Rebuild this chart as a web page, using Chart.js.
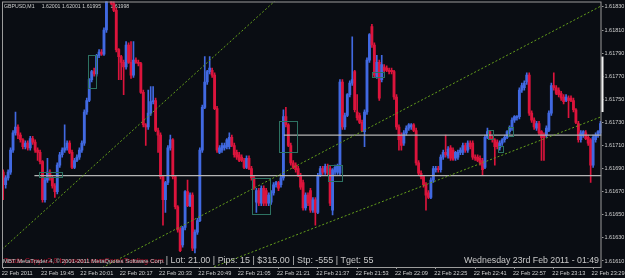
<!DOCTYPE html>
<html>
<head>
<meta charset="utf-8">
<script src="https://cdn.jsdelivr.net/npm/chart.js@4.4.1/dist/chart.umd.min.js"></script>
<style>
html, body { margin: 0; padding: 0; background: #0a0d13; }
</style>
</head>
<body>
<canvas id="myChart" width="625" height="278"></canvas>
<script>
// GBPUSD M1 bars, 19:29 .. 23:32
const opens = [1.61687,1.61676,1.61682,1.61687,1.61706,1.61721,1.61726,1.61719,1.61715,1.61709,
1.61712,1.61708,1.61716,1.61713,1.61706,1.61704,1.61696,1.61663,1.61680,1.61687,
1.61682,1.61675,1.61670,1.61693,1.61702,1.61706,1.61708,1.61712,1.61704,1.61691,
1.61697,1.61700,1.61706,1.61712,1.61739,1.61749,1.61767,1.61774,1.61772,1.61788,
1.61791,1.61789,1.61810,1.61849,1.61858,1.61833,1.61827,1.61793,1.61787,1.61782,
1.61778,1.61797,1.61782,1.61771,1.61784,1.61782,1.61781,1.61756,1.61728,1.61726,
1.61738,1.61748,1.61749,1.61723,1.61719,1.61683,1.61663,1.61678,1.61708,1.61715,
1.61683,1.61657,1.61637,1.61624,1.61639,1.61670,1.61658,1.61667,1.61621,1.61635,
1.61645,1.61706,1.61743,1.61765,1.61774,1.61775,1.61771,1.61742,1.61704,1.61706,
1.61708,1.61709,1.61709,1.61717,1.61710,1.61704,1.61702,1.61700,1.61697,1.61691,
1.61699,1.61690,1.61682,1.61661,1.61671,1.61660,1.61673,1.61671,1.61660,1.61661,
1.61669,1.61676,1.61678,1.61676,1.61682,1.61735,1.61728,1.61710,1.61695,1.61693,
1.61690,1.61684,1.61678,1.61656,1.61667,1.61671,1.61654,1.61663,1.61652,1.61684,
1.61690,1.61687,1.61692,1.61690,1.61654,1.61687,1.61687,1.61686,1.61765,1.61726,
1.61736,1.61754,1.61764,1.61774,1.61739,1.61736,1.61730,1.61722,1.61739,1.61784,
1.61813,1.61797,1.61769,1.61782,1.61767,1.61778,1.61777,1.61775,1.61775,1.61774,
1.61752,1.61726,1.61719,1.61712,1.61721,1.61725,1.61726,1.61728,1.61723,1.61695,
1.61686,1.61683,1.61676,1.61669,1.61665,1.61680,1.61689,1.61690,1.61689,1.61700,
1.61704,1.61701,1.61708,1.61706,1.61699,1.61700,1.61704,1.61704,1.61710,1.61706,
1.61712,1.61712,1.61700,1.61700,1.61699,1.61697,1.61691,1.61717,1.61722,1.61716,
1.61715,1.61713,1.61708,1.61712,1.61715,1.61717,1.61722,1.61725,1.61732,1.61734,
1.61735,1.61758,1.61760,1.61765,1.61771,1.61738,1.61732,1.61725,1.61729,1.61722,
1.61719,1.61719,1.61723,1.61738,1.61762,1.61760,1.61758,1.61755,1.61752,1.61749,
1.61751,1.61751,1.61749,1.61741,1.61729,1.61715,1.61719,1.61721,1.61717,1.61715,
1.61693,1.61715,1.61719,1.61721];
const highs = [1.61689,1.61684,1.61689,1.61708,1.61723,1.61739,1.61728,1.61721,1.61716,1.61714,
1.61714,1.61718,1.61718,1.61715,1.61708,1.61706,1.61697,1.61682,1.61699,1.61689,
1.61684,1.61677,1.61695,1.61704,1.61708,1.61728,1.61714,1.61714,1.61706,1.61699,
1.61702,1.61708,1.61714,1.61741,1.61751,1.61768,1.61775,1.61777,1.61789,1.61793,
1.61793,1.61812,1.61853,1.61862,1.61860,1.61835,1.61829,1.61794,1.61788,1.61784,
1.61800,1.61799,1.61800,1.61800,1.61786,1.61784,1.61782,1.61758,1.61729,1.61758,
1.61761,1.61761,1.61751,1.61725,1.61721,1.61684,1.61679,1.61710,1.61719,1.61716,
1.61684,1.61658,1.61639,1.61640,1.61671,1.61680,1.61669,1.61669,1.61637,1.61647,
1.61708,1.61745,1.61787,1.61775,1.61787,1.61777,1.61773,1.61744,1.61710,1.61712,
1.61712,1.61716,1.61721,1.61719,1.61712,1.61706,1.61704,1.61702,1.61699,1.61701,
1.61701,1.61692,1.61684,1.61673,1.61673,1.61675,1.61675,1.61673,1.61669,1.61671,
1.61678,1.61679,1.61679,1.61684,1.61741,1.61743,1.61729,1.61712,1.61697,1.61695,
1.61692,1.61686,1.61680,1.61669,1.61669,1.61673,1.61665,1.61665,1.61686,1.61692,
1.61692,1.61694,1.61694,1.61692,1.61690,1.61693,1.61694,1.61767,1.61767,1.61738,
1.61755,1.61766,1.61804,1.61775,1.61754,1.61738,1.61732,1.61741,1.61786,1.61807,
1.61815,1.61799,1.61788,1.61784,1.61788,1.61780,1.61779,1.61777,1.61777,1.61775,
1.61754,1.61728,1.61721,1.61723,1.61727,1.61729,1.61729,1.61729,1.61725,1.61697,
1.61688,1.61684,1.61678,1.61671,1.61682,1.61692,1.61692,1.61692,1.61702,1.61706,
1.61719,1.61709,1.61710,1.61708,1.61705,1.61706,1.61708,1.61712,1.61712,1.61714,
1.61714,1.61714,1.61702,1.61702,1.61701,1.61699,1.61719,1.61725,1.61723,1.61718,
1.61716,1.61715,1.61714,1.61716,1.61719,1.61723,1.61727,1.61734,1.61736,1.61736,
1.61760,1.61764,1.61766,1.61773,1.61773,1.61740,1.61734,1.61731,1.61731,1.61723,
1.61721,1.61727,1.61740,1.61764,1.61773,1.61762,1.61760,1.61757,1.61754,1.61754,
1.61753,1.61753,1.61751,1.61742,1.61731,1.61723,1.61723,1.61723,1.61719,1.61716,
1.61719,1.61721,1.61723,1.61731];
const lows = [1.61663,1.61673,1.61680,1.61685,1.61704,1.61719,1.61716,1.61713,1.61707,1.61707,
1.61706,1.61706,1.61711,1.61704,1.61697,1.61694,1.61661,1.61661,1.61678,1.61680,
1.61673,1.61665,1.61668,1.61691,1.61700,1.61704,1.61706,1.61703,1.61690,1.61690,
1.61696,1.61698,1.61704,1.61710,1.61737,1.61748,1.61765,1.61770,1.61770,1.61786,
1.61788,1.61788,1.61808,1.61846,1.61832,1.61826,1.61791,1.61767,1.61767,1.61754,
1.61776,1.61781,1.61768,1.61769,1.61781,1.61779,1.61755,1.61726,1.61710,1.61724,
1.61736,1.61746,1.61722,1.61704,1.61681,1.61641,1.61652,1.61676,1.61706,1.61681,
1.61655,1.61635,1.61618,1.61622,1.61637,1.61657,1.61657,1.61619,1.61617,1.61633,
1.61644,1.61704,1.61742,1.61763,1.61772,1.61769,1.61741,1.61704,1.61703,1.61704,
1.61706,1.61707,1.61707,1.61709,1.61700,1.61698,1.61696,1.61696,1.61690,1.61690,
1.61689,1.61680,1.61672,1.61652,1.61658,1.61658,1.61658,1.61658,1.61658,1.61659,
1.61667,1.61674,1.61671,1.61674,1.61680,1.61726,1.61709,1.61693,1.61690,1.61687,
1.61683,1.61672,1.61654,1.61654,1.61658,1.61652,1.61652,1.61641,1.61651,1.61683,
1.61685,1.61685,1.61684,1.61658,1.61650,1.61685,1.61685,1.61684,1.61724,1.61724,
1.61735,1.61752,1.61762,1.61739,1.61732,1.61729,1.61722,1.61709,1.61737,1.61782,
1.61795,1.61769,1.61768,1.61749,1.61765,1.61774,1.61774,1.61772,1.61772,1.61750,
1.61724,1.61706,1.61706,1.61710,1.61719,1.61723,1.61724,1.61722,1.61693,1.61684,
1.61681,1.61674,1.61654,1.61664,1.61664,1.61678,1.61687,1.61687,1.61687,1.61698,
1.61700,1.61699,1.61697,1.61697,1.61697,1.61698,1.61702,1.61702,1.61704,1.61704,
1.61707,1.61698,1.61697,1.61696,1.61693,1.61684,1.61690,1.61716,1.61715,1.61713,
1.61693,1.61707,1.61706,1.61710,1.61713,1.61716,1.61720,1.61723,1.61730,1.61732,
1.61733,1.61756,1.61758,1.61763,1.61736,1.61730,1.61724,1.61723,1.61719,1.61697,
1.61697,1.61717,1.61722,1.61736,1.61758,1.61754,1.61752,1.61749,1.61746,1.61748,
1.61734,1.61748,1.61739,1.61729,1.61713,1.61713,1.61717,1.61715,1.61710,1.61678,
1.61691,1.61713,1.61717,1.61719];
const closes = [1.61676,1.61682,1.61687,1.61706,1.61721,1.61726,1.61719,1.61715,1.61709,1.61712,
1.61708,1.61716,1.61713,1.61706,1.61704,1.61696,1.61663,1.61680,1.61687,1.61682,
1.61675,1.61670,1.61693,1.61702,1.61706,1.61708,1.61712,1.61704,1.61691,1.61697,
1.61700,1.61706,1.61712,1.61739,1.61749,1.61767,1.61774,1.61772,1.61788,1.61791,
1.61789,1.61810,1.61849,1.61858,1.61833,1.61827,1.61793,1.61787,1.61782,1.61778,
1.61797,1.61782,1.61771,1.61784,1.61782,1.61781,1.61756,1.61728,1.61726,1.61738,
1.61748,1.61749,1.61723,1.61719,1.61683,1.61663,1.61678,1.61708,1.61715,1.61683,
1.61657,1.61637,1.61619,1.61639,1.61670,1.61658,1.61667,1.61621,1.61635,1.61645,
1.61706,1.61743,1.61765,1.61774,1.61777,1.61771,1.61742,1.61706,1.61708,1.61710,
1.61710,1.61715,1.61717,1.61710,1.61702,1.61700,1.61697,1.61697,1.61691,1.61699,
1.61690,1.61682,1.61674,1.61671,1.61660,1.61673,1.61660,1.61660,1.61667,1.61669,
1.61676,1.61678,1.61673,1.61682,1.61735,1.61728,1.61710,1.61695,1.61691,1.61689,
1.61684,1.61674,1.61656,1.61667,1.61660,1.61654,1.61663,1.61652,1.61684,1.61690,
1.61687,1.61692,1.61686,1.61660,1.61689,1.61691,1.61692,1.61765,1.61726,1.61736,
1.61754,1.61764,1.61767,1.61741,1.61734,1.61730,1.61723,1.61739,1.61784,1.61806,
1.61797,1.61771,1.61782,1.61751,1.61780,1.61775,1.61775,1.61774,1.61774,1.61752,
1.61726,1.61715,1.61710,1.61721,1.61725,1.61728,1.61728,1.61723,1.61695,1.61686,
1.61683,1.61676,1.61667,1.61665,1.61680,1.61690,1.61690,1.61689,1.61700,1.61704,
1.61702,1.61707,1.61699,1.61698,1.61704,1.61704,1.61706,1.61710,1.61706,1.61712,
1.61709,1.61700,1.61699,1.61697,1.61695,1.61689,1.61717,1.61722,1.61716,1.61715,
1.61709,1.61709,1.61712,1.61715,1.61717,1.61722,1.61725,1.61732,1.61735,1.61735,
1.61758,1.61762,1.61764,1.61771,1.61738,1.61732,1.61726,1.61729,1.61721,1.61717,
1.61717,1.61725,1.61738,1.61762,1.61760,1.61755,1.61754,1.61751,1.61748,1.61752,
1.61749,1.61749,1.61741,1.61730,1.61715,1.61721,1.61722,1.61716,1.61712,1.61693,
1.61717,1.61719,1.61722,1.61729];

const xTickBars = [0, 16, 32, 48, 64, 80, 96, 112, 128, 144, 160, 176, 192, 208, 224, 240];
const xTickLabels = ['22 Feb 2011', '22 Feb 19:45', '22 Feb 20:01', '22 Feb 20:17', '22 Feb 20:33',
  '22 Feb 20:49', '22 Feb 21:05', '22 Feb 21:21', '22 Feb 21:37', '22 Feb 21:53', '22 Feb 22:09',
  '22 Feb 22:25', '22 Feb 22:41', '22 Feb 22:57', '22 Feb 23:13', '22 Feb 23:29'];
const yTicks = [1.61610, 1.61630, 1.61650, 1.61670, 1.61690, 1.61710, 1.61730, 1.61750, 1.61770, 1.61790, 1.61810, 1.61830];

// drawn objects on the chart (bar index, price)
const trendA = [{x: -0.5, y: 1.61620}, {x: 112, y: 1.61838}];
const trendB = [{x: 36, y: 1.615994}, {x: 243.4, y: 1.61831}];
const trendC = [{x: 85.8, y: 1.61605}, {x: 243.4, y: 1.61735}];
const levelHigh = [{x: 114.2, y: 1.61719}, {x: 243.4, y: 1.61719}];
const levelLow = [{x: 12.7, y: 1.61684}, {x: 243.4, y: 1.61684}];
const boxFrom = [34.4, 150.0, 112.2, 101.2, 132.1, 14.6, 197.2, 201.3, 205.4];
const boxTo = [37.8, 154.9, 119.5, 108.5, 137.8, 23.9, 199.3, 203.3, 207.4];
const boxTop = [1.61788, 1.61774, 1.61731, 1.61682, 1.61693, 1.61687, 1.61723, 1.61710, 1.61726];
const boxBottom = [1.61760, 1.61769, 1.61704, 1.61651, 1.61679, 1.61683, 1.61716, 1.61704, 1.61718];

const upColor = '#4169e1';
const downColor = '#dc143c';
const barColors = closes.map((c, i) => c >= opens[i] ? upColor : downColor);
const wicks = closes.map((c, i) => ({x: i, y: [lows[i], highs[i]]}));
const bodies = closes.map((c, i) => ({x: i, y: [opens[i], closes[i]]}));

function fitText(ctx, text, x, y, width, color, align) {
  ctx.font = '10px "Liberation Sans"';
  const size = 10 * width / ctx.measureText(text).width;
  ctx.font = size.toFixed(2) + 'px "Liberation Sans"';
  ctx.fillStyle = color;
  ctx.textAlign = align || 'left';
  ctx.textBaseline = 'middle';
  ctx.fillText(text, x, y);
}

const mt4 = {
  id: 'mt4',
  beforeDraw(chart) {
    const ctx = chart.ctx;
    ctx.save();
    ctx.fillStyle = '#0a0d13';
    ctx.fillRect(0, 0, chart.width, chart.height);
    ctx.restore();
  },
  beforeDatasetsDraw(chart) {
    const ctx = chart.ctx;
    ctx.save();
    ctx.font = '5.2px "Liberation Sans"';
    ctx.fillStyle = '#d0d0d0';
    ctx.textBaseline = 'middle';
    ctx.fillText('GBPUSD,M1', 4, 6.5);
    ctx.fillText('1.62001', 41.7, 6.5);
    ctx.fillText('1.62001', 62, 6.5);
    ctx.fillText('1.61995', 82.3, 6.5);
    ctx.fillText('1.61998', 110.5, 6.5);
    ctx.restore();
  },
  afterDatasetsDraw(chart) {
    const ctx = chart.ctx;
    const xs = chart.scales.x, ys = chart.scales.y;
    const a = chart.chartArea;
    ctx.save();
    ctx.strokeStyle = '#2d7262';
    ctx.lineWidth = 1;
    boxFrom.forEach((b, i) => {
      const x0 = Math.round(xs.getPixelForValue(b)) + 0.5;
      const x1 = Math.round(xs.getPixelForValue(boxTo[i])) + 0.5;
      const y0 = Math.round(ys.getPixelForValue(boxTop[i])) + 0.5;
      const y1 = Math.round(ys.getPixelForValue(boxBottom[i])) + 0.5;
      ctx.strokeRect(x0, y0, x1 - x0, y1 - y0);
    });
    // frame
    ctx.strokeStyle = '#9c9c9c';
    ctx.strokeRect(a.left + 0.5, a.top + 0.5, a.right - a.left - 1, a.bottom - a.top);
    // scroll marker on the price scale
    const m0 = ys.getPixelForValue(1.61787), m1 = ys.getPixelForValue(1.61739);
    ctx.fillStyle = '#f0f0f0';
    ctx.fillRect(a.right, m0, 2, m1 - m0);

    fitText(ctx, 'Trade Copy v2.0 by www.LearnForexTrading.com', 4, 260.5, 160, '#b0102a');
    fitText(ctx, 'MBT MetaTrader 4, \u00a9 2001-2011 MetaQuotes Software Corp.', 3, 261.5, 162, '#c8c8c8');
    fitText(ctx, '| Lot: 21.00 | Pips: 15 | $315.00 | Stp: -555 | Tget: 55', 165.7, 261, 208, '#c8c8c8');
    fitText(ctx, 'Wednesday 23rd Feb 2011 - 01:49', 599, 261, 135, '#c8c8c8', 'right');
    ctx.restore();
  }
};

const trendStyle = {
  type: 'line', borderColor: '#65a01c', borderWidth: 1, borderDash: [2, 2],
  pointRadius: 0, fill: false, order: 0
};
const levelStyle = {
  type: 'line', borderColor: '#b4b4b4', borderWidth: 1.2,
  pointRadius: 0, fill: false, order: 0
};

const myChart = new Chart(document.getElementById('myChart').getContext('2d'), {
  type: 'bar',
  data: {
    datasets: [
      Object.assign({data: trendA}, trendStyle),
      Object.assign({data: trendB}, trendStyle),
      Object.assign({data: trendC}, trendStyle),
      Object.assign({data: levelHigh}, levelStyle),
      Object.assign({data: levelLow}, levelStyle),
      {data: bodies, backgroundColor: barColors, barThickness: 2.2, grouped: false,
       borderWidth: 0, minBarLength: 1, order: 1},
      {data: wicks, backgroundColor: barColors, barThickness: 1, grouped: false,
       borderWidth: 0, order: 2}
    ]
  },
  options: {
    responsive: false,
    animation: false,
    events: [],
    layout: {padding: {left: 2, top: 1.5, right: 0, bottom: 0}},
    plugins: {legend: {display: false}, tooltip: {enabled: false}},
    scales: {
      x: {
        type: 'linear', position: 'bottom', min: -0.49, max: 243.41, offset: false,
        afterBuildTicks: s => { s.ticks = xTickBars.map(v => ({value: v})); },
        afterFit: s => { s.height = 11; s.paddingLeft = 0; s.paddingRight = 0; },
        grid: {drawOnChartArea: false, drawTicks: true, tickLength: 2, color: '#9c9c9c', offset: false},
        border: {display: false},
        ticks: {
          autoSkip: false, maxRotation: 0, align: 'start', labelOffset: -1.5, padding: 1,
          color: '#d0d0d0', font: {family: 'Liberation Sans', size: 5.6},
          callback: v => xTickLabels[xTickBars.indexOf(v)]
        }
      },
      y: {
        type: 'linear', position: 'right', min: 1.616048, max: 1.618347,
        afterBuildTicks: s => { s.ticks = yTicks.map(v => ({value: v})); },
        afterFit: s => { s.width = 23.5; s.paddingTop = 0; s.paddingBottom = 0; },
        grid: {drawOnChartArea: false, drawTicks: true, tickLength: 2, color: '#9c9c9c'},
        border: {display: false},
        ticks: {
          padding: 1, color: '#d0d0d0', font: {family: 'Liberation Sans', size: 5.5},
          callback: v => v.toFixed(5)
        }
      }
    }
  },
  plugins: [mt4]
});
</script>
</body>
</html>
